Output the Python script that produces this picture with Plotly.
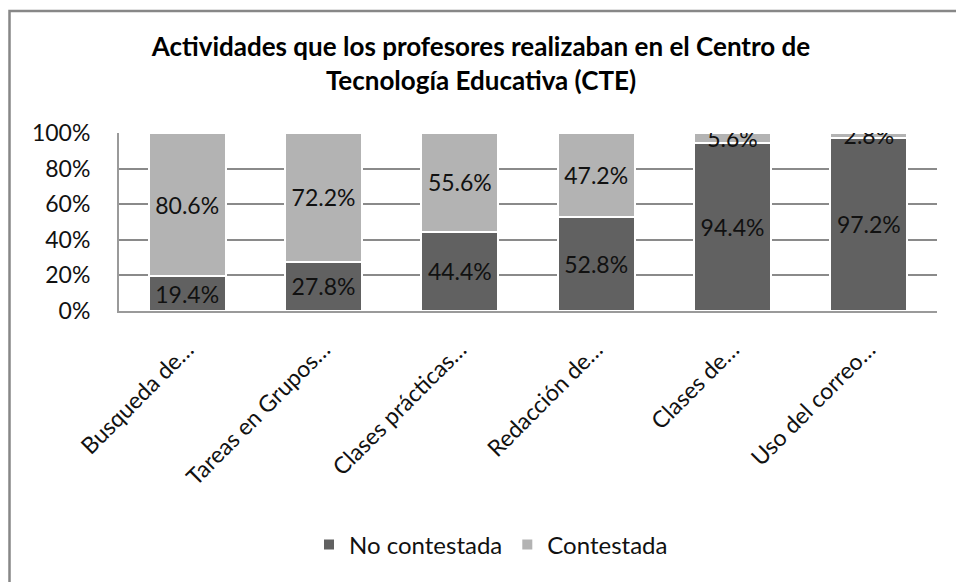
import plotly.graph_objects as go

categories = ["Busqueda de…", "Tareas en Grupos…", "Clases prácticas…",
              "Redacción de…", "Clases de…", "Uso del correo…"]
no_contestada = [19.4, 27.8, 44.4, 52.8, 94.4, 97.2]
contestada = [80.6, 72.2, 55.6, 47.2, 5.6, 2.8]
y_ticks = [0, 20, 40, 60, 80, 100]
y_tick_labels = ["0%", "20%", "40%", "60%", "80%", "100%"]

# the page body adds an 8px offset; figure is sized so it fills the window
OFF = 8
W, H = 964 - OFF, 582 - OFF
L, T = 119 - OFF, 133 - OFF
R = W - (937 - OFF)
B = H - (311 - OFF)
pw, ph = W - L - R, H - T - B

FONT = "Lato"
DARK = "#616161"
LIGHT = "#b3b3b3"


def px_x(p):
    return (p - OFF - L) / pw


def px_y(p):
    return (H - B - (p - OFF)) / ph


fig = go.Figure()
fig.add_trace(go.Bar(
    name="No contestada", x=categories, y=no_contestada,
    marker=dict(color=DARK, line=dict(color="white", width=2)),
    text=[f"{v:.1f}%" for v in no_contestada], textposition="inside",
    insidetextanchor="middle", textangle=0,
    textfont=dict(family=FONT, size=23, color="#111"),
))
fig.add_trace(go.Bar(
    name="Contestada", x=categories, y=contestada,
    marker=dict(color=LIGHT, line=dict(color="white", width=2)),
    text=[f"{v:.1f}%" for v in contestada], textposition="inside",
    insidetextanchor="middle", textangle=0,
    textfont=dict(family=FONT, size=23, color="#111"),
))

fig.update_layout(
    width=W, height=H,
    margin=dict(l=L, r=R, t=T, b=B, autoexpand=False),
    barmode="stack", bargap=0.435,
    paper_bgcolor="white", plot_bgcolor="white",
    uniformtext=dict(minsize=23, mode="show"),
    font=dict(family=FONT, size=22, color="#111"),
    title=dict(
        text="<b>Actividades que los profesores realizaban en el Centro de<br>Tecnología Educativa (CTE)</b>",
        x=(481 - OFF) / W, xanchor="center", xref="container",
        y=1 - 48 / H, yanchor="top", yref="container",
        font=dict(family=FONT, size=26, color="#000"),
    ),
    xaxis=dict(
        tickangle=-45, showgrid=False, showline=True, linecolor="#9a9a9a",
        linewidth=2, ticks="", tickfont=dict(family=FONT, size=23, color="#111"),
        ticklabelstandoff=14,
    ),
    yaxis=dict(
        range=[0, 100], tickvals=y_ticks, ticktext=y_tick_labels,
        showgrid=True, gridcolor="#8a8a8a", gridwidth=2,
        showline=True, linecolor="#9a9a9a", linewidth=2,
        zeroline=False, ticks="", ticklabelstandoff=22,
        tickfont=dict(family=FONT, size=23, color="#111"),
    ),
    legend=dict(
        orientation="h", x=(491 - OFF) / W, xanchor="center", xref="container",
        y=px_y(545), yanchor="middle",
        font=dict(family=FONT, size=24, color="#111"),
        itemwidth=30, traceorder="normal",
    ),
    shapes=[dict(
        type="rect", xref="paper", yref="paper",
        x0=px_x(OFF + 1.5), x1=px_x(990), y0=px_y(600), y1=px_y(11),
        line=dict(color="#878787", width=2.5), fillcolor="rgba(0,0,0,0)",
        layer="below",
    )],
)

fig.write_html("out.html")
